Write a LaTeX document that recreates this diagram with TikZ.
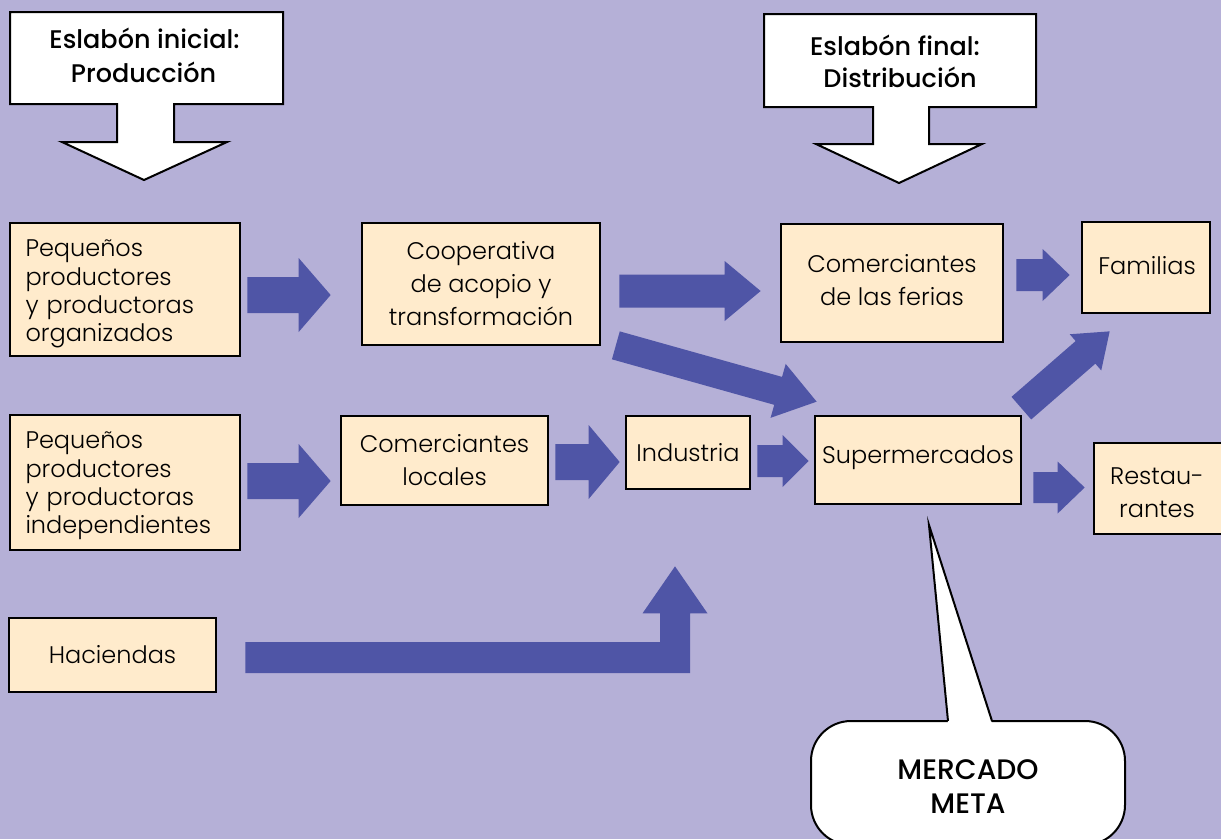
\documentclass[tikz,border=0pt]{standalone}
\usepackage{fontspec}
\setmainfont{Poppins}
\newfontfamily\lightfont{Poppins Light}
\newfontfamily\medfont{Poppins Medium}
\usetikzlibrary{calc}
\definecolor{bgcol}{RGB}{181,176,215}
\definecolor{arrowcol}{RGB}{79,85,166}
\definecolor{boxcol}{RGB}{255,235,204}

% block arrow: tail, tip, half shaft width, half head width, head length
\newcommand\blockarrow[5]{%
  \coordinate (ba-h) at ($(#2)!#5!(#1)$);
  \fill[arrowcol] ($(#1)!#3!90:(#2)$) -- ($(ba-h)!#3!90:(#2)$) -- ($(ba-h)!#4!90:(#2)$)
    -- (#2) -- ($(ba-h)!#4!-90:(#2)$) -- ($(ba-h)!#3!-90:(#2)$) -- ($(#1)!#3!-90:(#2)$) -- cycle;
}

\begin{document}
\begin{tikzpicture}[x=1pt,y=-1pt,
  box/.style={draw=black, line width=2.7pt, fill=boxcol, inner sep=0pt},
  boxtext/.style={inner sep=0pt, align=center, font=\lightfont\fontsize{24}{33}\selectfont},
  lefttext/.style={inner sep=0pt, text width=199pt, align=left,
    font=\lightfont\fontsize{24}{28.3}\selectfont},
  callout/.style={draw=black, line width=2pt, fill=white},
  headtext/.style={anchor=base, inner sep=0pt, font=\medfont\fontsize{25.5}{33}\selectfont},
  metatext/.style={anchor=base, inner sep=0pt, font=\medfont\fontsize{28.2}{33}\selectfont}]

\useasboundingbox (0,0) rectangle (1221,839);
\fill[bgcol] (0,0) rectangle (1221,839);

% stage callouts
\draw[callout] (10,12) -- (283,12) -- (283,104) -- (174,104) -- (174,142) -- (227,142)
  -- (144,180) -- (62,142) -- (117,142) -- (117,104) -- (10,104) -- cycle;
\node[headtext] (t1a) at (144.5,48) {Eslabón inicial:};
\node[headtext] (t1b) at (143.5,82) {Producción};

\draw[callout] (764,14) -- (1036,14) -- (1036,107) -- (929,107) -- (929,144) -- (982,144)
  -- (899,183) -- (816,144) -- (873,144) -- (873,107) -- (764,107) -- cycle;
\node[headtext] (t2a) at (895,55) {Eslabón final:};
\node[headtext] (t2b) at (900,87) {Distribución};

% chain actors: boxes
\node[box, minimum width=230pt, minimum height=133pt] (po) at (125,289.5) {};
\node[box, minimum width=238pt, minimum height=122pt] (coop) at (481,284) {};
\node[box, minimum width=222pt, minimum height=118pt] (fer) at (892,283) {};
\node[box, minimum width=128pt, minimum height=91pt] (fam) at (1146,267.5) {};
\node[box, minimum width=230pt, minimum height=135pt] (pi) at (125,482.5) {};
\node[box, minimum width=207pt, minimum height=89pt] (loc) at (444.5,460.5) {};
\node[box, minimum width=124pt, minimum height=73pt] (ind) at (688,452.5) {};
\node[box, minimum width=206pt, minimum height=88pt] (sup) at (918,460) {};
\node[box, minimum width=128pt, minimum height=91pt] (rest) at (1158,488.5) {};
\node[box, minimum width=207pt, minimum height=74pt] (hac) at (112.5,655) {};

% chain actors: labels
\node[lefttext] (po-t) at ($(po)+(0,4.5)$)
  {Pequeños\\productores\\y productoras\\organizados};
\node[boxtext] (coop-t) at (coop) {Cooperativa\\de acopio y\\transformación};
\node[boxtext] (fer-t) at ($(fer)+(0,-3)$) {Comerciantes\\de las ferias};
\node[boxtext] (fam-t) at ($(fam)+(1,-1.5)$) {Familias};
\node[lefttext] (pi-t) at ($(pi)+(0,3.5)$)
  {Pequeños\\productores\\y productoras\\independientes};
\node[boxtext] (loc-t) at (loc) {Comerciantes\\locales};
\node[boxtext] (ind-t) at (ind) {Industria};
\node[boxtext] (sup-t) at ($(sup)+(0,-2)$) {Supermercados};
\node[boxtext] (rest-t) at ($(rest)+(-1,4.5)$) {Restau-\\rantes};
\node[boxtext] (hac-t) at (hac) {Haciendas};

% flows
\coordinate (a1s) at ($(po.east)+(6,5.5)$);
\coordinate (a1e) at ($(coop.west)+(-30,11)$);
\blockarrow{a1s}{a1e}{18pt}{37pt}{32pt}

\coordinate (a2s) at ($(pi.east)+(6,-1.5)$);
\coordinate (a2e) at ($(loc.west)+(-9,20.5)$);
\blockarrow{a2s}{a2e}{18pt}{37pt}{32pt}

\coordinate (a3s) at ($(loc.east)+(6,1.5)$);
\coordinate (a3e) at ($(ind.west)+(-5,9.5)$);
\blockarrow{a3s}{a3e}{18pt}{37pt}{31pt}

\coordinate (a4s) at ($(ind.east)+(6,8.5)$);
\coordinate (a4e) at ($(sup.west)+(-5,1)$);
\blockarrow{a4s}{a4e}{16pt}{26pt}{26pt}

\coordinate (a5s) at ($(sup.east)+(11,27.5)$);
\coordinate (a5e) at ($(rest.west)+(-8,-1)$);
\blockarrow{a5s}{a5e}{15.5pt}{26pt}{27pt}

\coordinate (a6s) at ($(coop.east)+(18,7)$);
\coordinate (a6e) at ($(fer.west)+(-19,8)$);
\blockarrow{a6s}{a6e}{16.5pt}{30pt}{36pt}

\coordinate (a7s) at ($(fer.east)+(12,-8)$);
\coordinate (a7e) at ($(fam.west)+(-11,7.5)$);
\blockarrow{a7s}{a7e}{16pt}{26pt}{27pt}

\coordinate (a8s) at ($(coop.south east)+(14.5,-1)$);
\coordinate (a8e) at ($(sup.north west)+(3,-13)$);
\blockarrow{a8s}{a8e}{14.5pt}{28pt}{40pt}

\coordinate (a9s) at ($(sup.north east)+(-1,-6.5)$);
\coordinate (a9e) at ($(fam.south west)+(29,17)$);
\blockarrow{a9s}{a9e}{15pt}{24pt}{32pt}

% bent flow from the haciendas up to the industry
\coordinate (b0) at ($(hac.east)+(28,2.5)$);
\coordinate (b2) at ($(ind.south)+(-13,76)$);
\coordinate (bc) at (b2 |- b0);
\fill[arrowcol] ($(b0)+(0,-15.5)$) -- ($(bc)+(-15,-15.5)$) -- ($(b2)+(-15,47)$)
  -- ($(b2)+(-32.5,47)$) -- (b2) -- ($(b2)+(32.5,47)$) -- ($(b2)+(15,47)$)
  -- ($(bc)+(15,15.5)$) -- ($(b0)+(0,15.5)$) -- cycle;

% target market speech bubble
\draw[callout, rounded corners=40pt] (811,721) rectangle (1125,845);
\fill[white] (948,723.5) -- (929,525) -- (992,723.5) -- cycle;
\draw[line width=2pt] (948,721) -- (929,525) -- (992,721);
\node[metatext] (m1) at (968,779) {MERCADO};
\node[metatext] (m2) at (968,813) {META};
\end{tikzpicture}
\end{document}
